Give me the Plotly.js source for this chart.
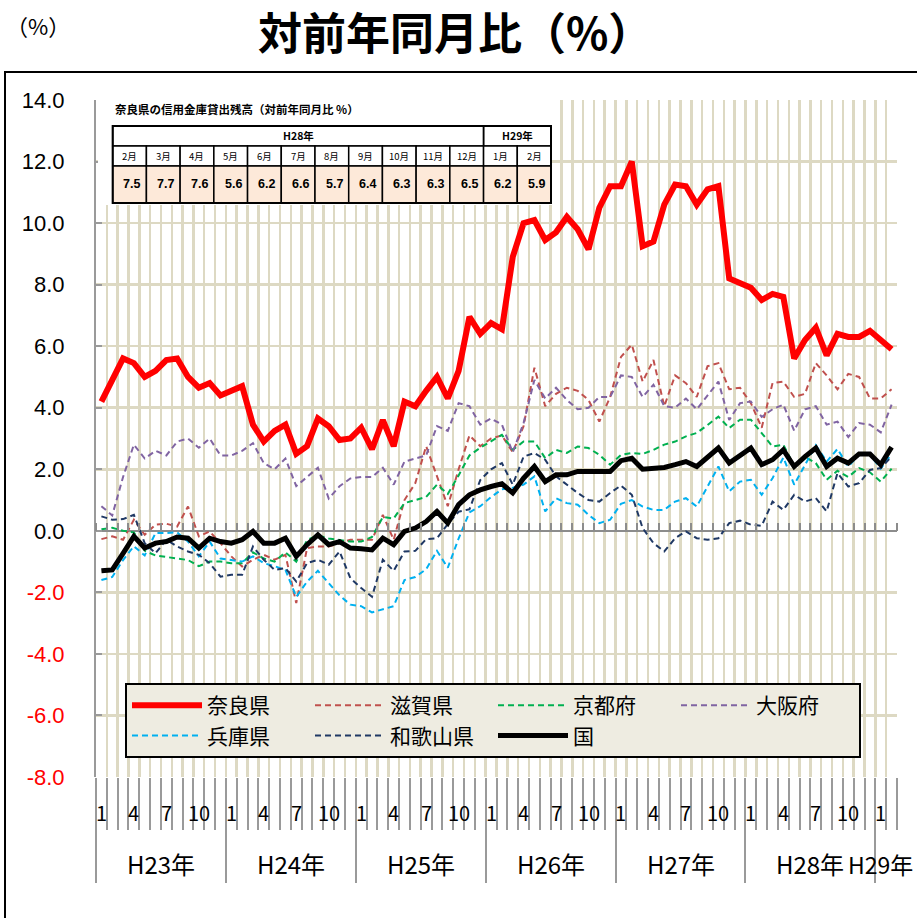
<!DOCTYPE html>
<html><head><meta charset="utf-8">
<script src="https://cdn.plot.ly/plotly-3.0.1.min.js"></script>
<style>html,body{margin:0;padding:0;background:#fff}#chart{width:917px;height:918px}</style>
</head><body><div id="chart"></div>
<script>
// ---- data ----
const years = ['H23年','H24年','H25年','H26年','H27年','H28年','H29年'];
const monthsPerYear = [12,12,12,12,12,12,2];
const monthTickLabels = [1,4,7,10];
const seriesNames = ['奈良県','滋賀県','京都府','大阪府','兵庫県','和歌山県','国'];

const nara = [4.2,4.9,5.6,5.45,5.0,5.2,5.55,5.6,5.0,4.65,4.8,4.4,
  4.55,4.7,3.45,2.9,3.25,3.45,2.5,2.75,3.65,3.4,2.95,3.0,
  3.35,2.65,3.6,2.75,4.2,4.05,4.55,5.0,4.3,5.2,6.95,6.4,
  6.75,6.55,8.9,10.0,10.1,9.45,9.7,10.2,9.8,9.15,10.5,11.2,
  11.2,12.0,9.25,9.4,10.6,11.25,11.2,10.6,11.1,11.2,8.2,8.05,
  7.9,7.5,7.7,7.6,5.6,6.2,6.6,5.7,6.4,6.3,6.3,6.5,
  6.2,5.9];
const shiga = [-0.27,-0.18,-0.29,0.36,-0.13,0.2,0.23,0.14,0.79,-0.18,-0.02,-0.4,
  -0.83,-1.16,-0.94,-0.78,-0.94,-0.78,-2.35,-0.56,-0.51,-0.51,-0.4,-0.29,
  -0.29,-0.29,0.52,-0.29,1.0,1.55,2.75,1.8,0.8,2.0,3.1,2.75,
  3.0,3.1,2.55,3.4,5.3,4.05,4.45,4.65,4.55,4.25,3.55,4.35,
  5.65,6.05,4.85,5.55,4.05,5.05,4.8,4.35,5.35,5.45,4.6,4.65,
  4.15,3.35,4.8,4.85,4.35,4.45,5.45,5.05,4.6,5.1,5.0,4.3,
  4.3,4.6];
const kyoto = [0.05,0.1,0.0,-0.05,-0.65,-0.8,-0.85,-0.9,-0.95,-1.15,-1.0,-1.0,
  -1.05,-1.05,-0.7,-0.9,-1.0,-0.7,-1.0,-0.3,-0.15,-0.25,-0.3,-0.35,
  -0.35,-0.2,0.45,0.4,0.9,1.0,1.1,1.5,1.2,1.8,2.45,2.7,
  2.9,3.12,2.63,2.9,2.9,2.36,2.63,2.53,2.74,2.69,2.47,2.15,
  2.47,2.53,2.5,2.63,2.8,2.9,3.07,3.18,3.44,3.71,3.34,3.61,
  3.61,3.18,2.74,2.8,2.1,2.4,2.2,1.66,1.95,1.75,2.04,1.9,
  1.6,2.02];
const osaka = [0.8,0.5,1.75,2.8,2.35,2.6,2.45,2.9,3.0,2.7,3.0,2.45,
  2.45,2.6,2.85,2.2,2.0,2.35,1.45,1.75,2.05,1.05,1.45,1.7,
  1.75,1.75,2.05,1.5,2.25,2.35,2.45,3.4,3.25,4.15,4.05,3.45,
  3.65,3.45,2.55,3.5,4.9,4.3,4.65,4.25,3.95,4.0,4.35,4.35,
  5.05,5.0,4.35,4.75,4.05,4.0,4.3,3.95,4.4,4.85,3.6,4.15,
  4.2,3.7,3.95,4.1,3.25,3.95,4.05,3.45,3.55,3.05,3.5,3.45,
  3.2,4.1];
const hyogo = [-1.6,-1.5,-0.95,-0.5,-0.8,-0.07,-0.07,-0.05,-0.35,-0.83,-0.35,-0.9,
  -0.95,-1.0,-0.83,-1.05,-1.15,-1.27,-2.15,-1.65,-1.3,-1.7,-2.1,-2.4,
  -2.45,-2.65,-2.55,-2.45,-1.6,-1.5,-1.25,-0.65,-1.2,-0.25,0.6,0.8,
  1.1,1.35,1.4,1.5,1.77,0.63,1.06,0.9,0.85,0.52,0.25,0.36,
  0.88,1.0,0.79,0.68,0.68,0.95,1.06,0.79,1.44,2.09,1.28,1.6,
  1.66,1.17,1.71,2.38,1.5,2.15,2.78,2.25,2.66,2.09,2.47,2.47,
  2.02,2.5];
const wakayama = [0.47,0.36,0.38,0.52,-0.4,-0.73,-0.29,-0.51,-0.67,-0.78,-1.05,-1.49,
  -1.43,-1.43,-0.51,-0.94,-1.27,-1.21,-1.65,-1.05,-0.94,-1.1,-0.67,-1.54,
  -1.86,-2.14,-0.94,-1.3,-0.67,-0.65,-0.27,-0.24,0.22,0.62,0.7,1.65,
  2.0,2.2,1.5,2.41,2.53,2.31,1.77,1.5,1.23,1.0,0.95,1.23,
  1.47,1.17,0.09,-0.4,-0.67,-0.24,-0.02,-0.24,-0.29,-0.24,0.25,0.33,
  0.2,0.16,0.95,0.68,1.17,0.95,1.06,0.63,1.88,1.44,1.55,1.98,
  2.04,2.41];
const national = [-1.3,-1.27,-0.73,-0.18,-0.56,-0.4,-0.35,-0.2,-0.24,-0.56,-0.24,-0.35,
  -0.4,-0.29,-0.02,-0.4,-0.4,-0.24,-0.83,-0.45,-0.13,-0.45,-0.35,-0.56,
  -0.58,-0.62,-0.24,-0.45,-0.02,0.09,0.3,0.63,0.25,0.85,1.17,1.33,
  1.44,1.53,1.23,1.71,2.09,1.6,1.82,1.82,1.93,1.93,1.93,1.93,
  2.28,2.36,2.0,2.04,2.06,2.15,2.25,2.09,2.41,2.69,2.2,2.47,
  2.69,2.15,2.31,2.63,2.09,2.41,2.69,2.09,2.36,2.2,2.5,2.5,
  2.15,2.72];

const yTickVals = [14,12,10,8,6,4,2,0,-2,-4,-6,-8];

const insetTitle = '奈良県の信用金庫貸出残高（対前年同月比 %）';
const tableYearHeaders = ['H28年','H29年'];
const tableYearSpans = [11,2];
const tableMonths = ['2月','3月','4月','5月','6月','7月','8月','9月','10月','11月','12月','1月','2月'];
const tableValues = [7.5,7.7,7.6,5.6,6.2,6.6,5.7,6.4,6.3,6.3,6.5,6.2,5.9];

// ---- geometry helpers ----
const W = 917, Hh = 918;
const L = 96, R = 897, T = 100, B = 777;
const px2x = p => (p - L) / (R - L);
const py2y = p => (B - p) / (B - T);
const yMin = -8, yMax = 14;
const nMonths = nara.length;
const xs = nara.map((_, i) => i);

const colors = ['#FF0000','#C0504D','#00B050','#8064A2','#00B0F0','#1F3864','#000000'];
const seriesData = [nara, shiga, kyoto, osaka, hyogo, wakayama, national];
const traces = seriesData.map((d, k) => {
  const solid = (k === 0 || k === 6);
  return {
    type: 'scatter', mode: 'lines', x: xs, y: d, name: seriesNames[k],
    line: {color: colors[k], width: solid ? (k === 0 ? 6 : 5) : 2, dash: solid ? 'solid' : '6px,4px'},
    hoverinfo: 'skip'
  };
});
// helper trace for the tick marks drawn along the zero line
traces.push({type: 'scatter', mode: 'none', x: [0], y: [0], xaxis: 'x2', showlegend: false, hoverinfo: 'skip'});

const annotations = [];
const shapes = [];
const catFont = {family: 'Noto Sans CJK JP', size: 20, color: '#000'};

// month & year labels
let start = 0;
years.forEach((yr, k) => {
  const n = monthsPerYear[k];
  monthTickLabels.forEach(m => {
    if (m <= n) annotations.push({xref: 'x', yref: 'paper', x: start + m - 1, y: py2y(812),
      text: String(m), showarrow: false, xanchor: 'center', yanchor: 'middle', font: catFont});
  });
  const last = (k === years.length - 1);
  annotations.push({xref: last ? 'paper' : 'x', yref: 'paper', x: last ? px2x(915) : start + (n - 1) / 2, y: py2y(864),
    text: yr, showarrow: false, xanchor: last ? 'right' : 'center', yanchor: 'middle',
    font: {family: 'Noto Sans CJK JP', size: last ? 23 : 24, color: '#000'}});
  start += n;
});

// titles
annotations.push({xref: 'paper', yref: 'paper', x: px2x(455), y: py2y(31), text: '対前年同月比（%）',
  showarrow: false, xanchor: 'center', yanchor: 'middle',
  font: {family: 'Noto Sans CJK JP', size: 44, color: '#000', weight: 'bold'}});
annotations.push({xref: 'paper', yref: 'paper', x: px2x(38), y: py2y(25), text: '（%）',
  showarrow: false, xanchor: 'center', yanchor: 'middle',
  font: {family: 'Noto Sans CJK JP', size: 22, color: '#000'}});

// outer frame
shapes.push({type: 'rect', xref: 'paper', yref: 'paper', x0: px2x(5), x1: px2x(930), y0: py2y(930), y1: py2y(72),
  line: {color: '#000', width: 2}, fillcolor: 'rgba(0,0,0,0)', layer: 'above'});

// inset box
shapes.push({type: 'rect', xref: 'paper', yref: 'paper', x0: px2x(98), x1: px2x(552), y0: py2y(205), y1: py2y(96),
  line: {width: 0}, fillcolor: '#FFFFFF', layer: 'above'});
annotations.push({xref: 'paper', yref: 'paper', x: px2x(113), y: py2y(109), text: insetTitle,
  showarrow: false, xanchor: 'left', yanchor: 'middle',
  font: {family: 'Noto Sans CJK JP', size: 11.5, color: '#000', weight: 'bold'}});

const tL = 112.7, tR = 551, nCols = tableMonths.length;
const cw = (tR - tL) / nCols;
const rowY = [126, 146, 166, 203];
let c0 = 0;
tableYearHeaders.forEach((h, k) => {
  const span = tableYearSpans[k];
  const xa = tL + c0 * cw, xb = tL + (c0 + span) * cw;
  shapes.push({type: 'rect', xref: 'paper', yref: 'paper', x0: px2x(xa), x1: px2x(xb), y0: py2y(rowY[1]), y1: py2y(rowY[0]),
    line: {color: '#000', width: 1.5}, fillcolor: k === 0 ? '#FFFFFF' : 'rgba(0,0,0,0)', layer: 'above'});
  annotations.push({xref: 'paper', yref: 'paper', x: px2x((xa + xb) / 2), y: py2y((rowY[0] + rowY[1]) / 2), text: h,
    showarrow: false, xanchor: 'center', yanchor: 'middle',
    font: {family: 'Noto Sans CJK JP', size: 10.5, color: '#000', weight: 'bold'}});
  c0 += span;
});
tableMonths.forEach((m, i) => {
  const xa = tL + i * cw, xb = xa + cw;
  shapes.push({type: 'rect', xref: 'paper', yref: 'paper', x0: px2x(xa), x1: px2x(xb), y0: py2y(rowY[2]), y1: py2y(rowY[1]),
    line: {color: '#000', width: 1.5}, fillcolor: '#FFFFFF', layer: 'above'});
  shapes.push({type: 'rect', xref: 'paper', yref: 'paper', x0: px2x(xa), x1: px2x(xb), y0: py2y(rowY[3]), y1: py2y(rowY[2]),
    line: {color: '#000', width: 1.5}, fillcolor: '#FDE9D9', layer: 'above'});
  annotations.push({xref: 'paper', yref: 'paper', x: px2x((xa + xb) / 2), y: py2y((rowY[1] + rowY[2]) / 2), text: m,
    showarrow: false, xanchor: 'center', yanchor: 'middle',
    font: {family: 'Noto Sans CJK JP', size: 9.5, color: '#000'}});
  annotations.push({xref: 'paper', yref: 'paper', x: px2x(xb - 4), y: py2y((rowY[2] + rowY[3]) / 2), text: tableValues[i].toFixed(1),
    showarrow: false, xanchor: 'right', yanchor: 'middle',
    font: {family: 'Liberation Sans', size: 12.5, color: '#000', weight: 'bold'}});
});
shapes.push({type: 'rect', xref: 'paper', yref: 'paper', x0: px2x(tL), x1: px2x(tR), y0: py2y(rowY[3]), y1: py2y(rowY[0]),
  line: {color: '#000', width: 2}, fillcolor: 'rgba(0,0,0,0)', layer: 'above'});

const yTickText = yTickVals.map(v => v < 0 ? '<span style="color:#FF0000">' + v.toFixed(1) + '</span>' : v.toFixed(1));

const layout = {
  width: W, height: Hh,
  margin: {l: L, r: W - R, t: T, b: Hh - B, pad: 0},
  paper_bgcolor: '#FFFFFF', plot_bgcolor: '#FFFFFF',
  showlegend: true,
  legend: {orientation: 'h', x: px2x(125), y: py2y(683), xanchor: 'left', yanchor: 'top',
    bgcolor: '#EEECE1', bordercolor: '#000', borderwidth: 2,
    font: {family: 'Noto Sans CJK JP', size: 21, color: '#000'},
    itemwidth: 70, entrywidth: 98, entrywidthmode: 'pixels', traceorder: 'normal', tracegroupgap: 0},
  xaxis: {range: [-0.5, nMonths - 0.5], tickmode: 'linear', tick0: -0.5, dtick: 12,
    ticks: 'outside', ticklen: 105, tickwidth: 2, tickcolor: '#9a9a9a',
    showgrid: true, gridcolor: '#DDD9C3', gridwidth: 2.5, showticklabels: false, zeroline: false, showline: false,
    minor: {tick0: -0.5, dtick: 1, ticks: 'outside', ticklen: 52, tickwidth: 2, tickcolor: '#9a9a9a',
      showgrid: true, gridcolor: '#DDD9C3', gridwidth: 2.5}},
  xaxis2: {overlaying: 'x', anchor: 'free', position: (0 - yMin) / (yMax - yMin), side: 'top',
    range: [-0.5, nMonths - 0.5], tickmode: 'linear', tick0: -0.5, dtick: 1,
    ticks: 'outside', ticklen: 8, tickwidth: 2, tickcolor: '#8c8c8c',
    showgrid: false, showticklabels: false, zeroline: false, showline: false},
  yaxis: {range: [yMin, yMax], tickmode: 'array', tickvals: yTickVals, ticktext: yTickText,
    ticks: 'inside', ticklen: 6, tickwidth: 2, tickcolor: '#9a9a9a', ticklabelstandoff: 25,
    tickfont: {family: 'Liberation Sans', size: 22, color: '#000'},
    showgrid: true, gridcolor: '#DDD9C3', gridwidth: 2.5,
    zeroline: true, zerolinecolor: '#8c8c8c', zerolinewidth: 2.5,
    showline: true, linecolor: '#9a9a9a', linewidth: 2},
  annotations: annotations,
  shapes: shapes
};

Plotly.newPlot('chart', traces, layout, {displayModeBar: false, staticPlot: true});
</script>
</body></html>
